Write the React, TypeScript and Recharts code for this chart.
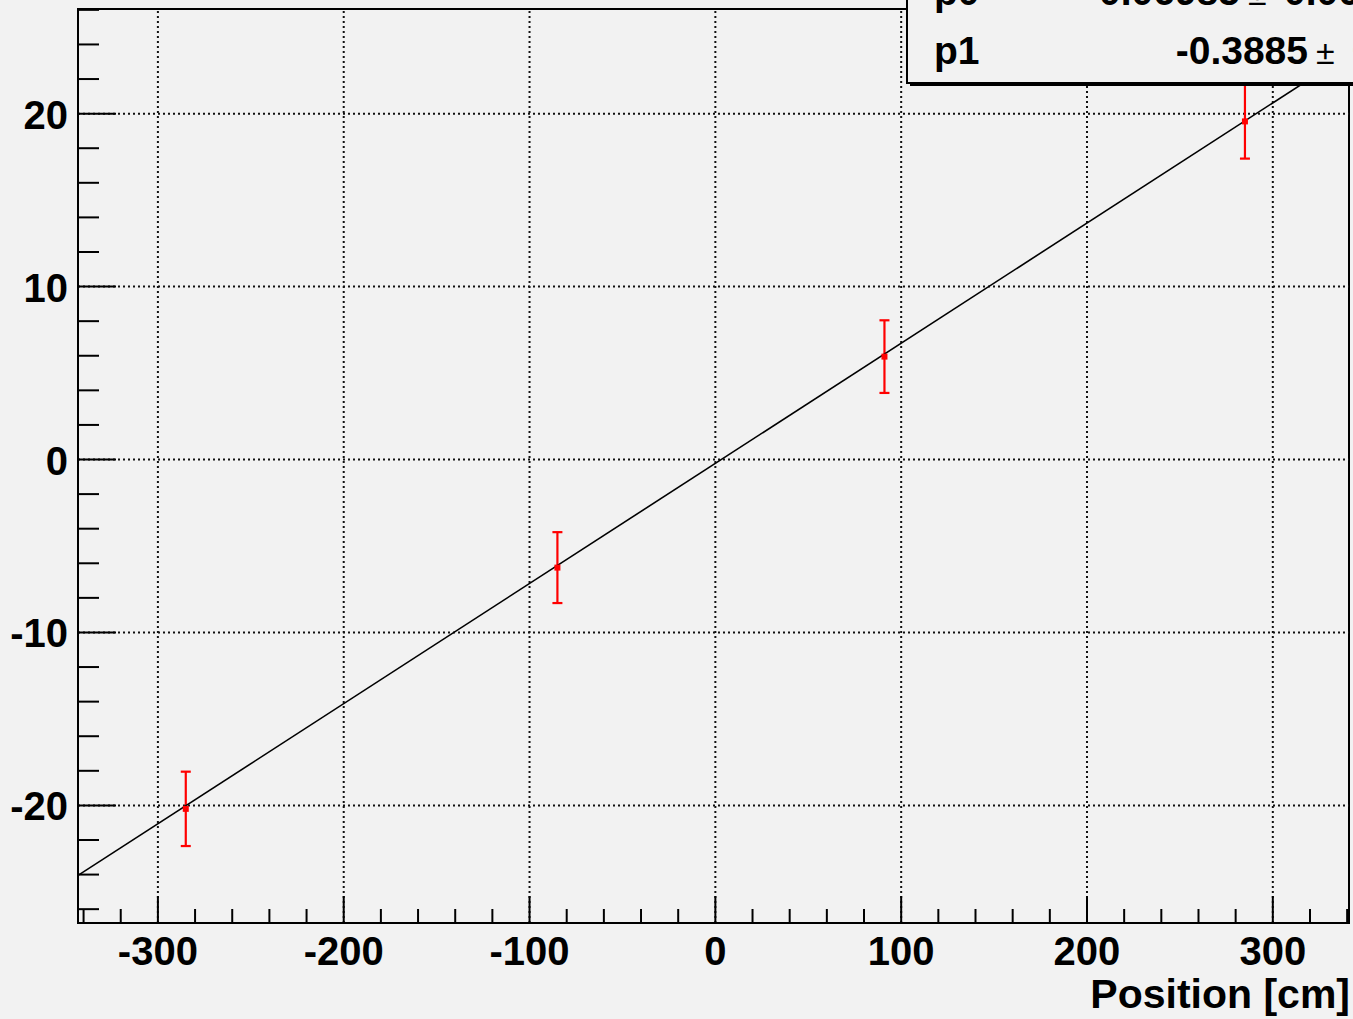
import React from 'react';
import { ScatterChart, Scatter, XAxis, YAxis, ErrorBar, ReferenceLine, ReferenceArea } from 'recharts';

const BG = '#f2f2f2';
const FONT = '"Liberation Sans", Arial, Helvetica, sans-serif';

// measured points (position in cm, value, y error)
const posX = [-285, -85, 91, 285];
const posY = [-20.2, -6.25, 5.95, 19.55];
const posErr = [2.15, 2.05, 2.1, 2.15];

// fitted straight line, end points
const fitX = [-343, 340];
const fitY = [-24.05, 23.4];

// axis ticks
const xMajor = [-300, -200, -100, 0, 100, 200, 300];
const xTicks = [
  -340, -320, -300, -280, -260, -240, -220, -200, -180, -160, -140, -120, -100, -80, -60, -40, -20, 0,
  20, 40, 60, 80, 100, 120, 140, 160, 180, 200, 220, 240, 260, 280, 300, 320, 340,
];
const yMajor = [-20, -10, 0, 10, 20];
const yTicks = [
  -26, -24, -22, -20, -18, -16, -14, -12, -10, -8, -6, -4, -2, 0, 2, 4, 6, 8, 10, 12, 14, 16, 18, 20, 22, 24, 26,
];

// stats box rows (only partly visible)
const statNames = ['p0', 'p1'];
const statValues = ['0.06985', '-0.3885'];
const statErrors = ['0.06623', '0.0003176'];

const X_DOMAIN: [number, number] = [-343, 341];
const Y_DOMAIN: [number, number] = [-26.8, 26.05];

const points = posX.map((x, i) => ({ x, y: posY[i], err: posErr[i] }));
const fitLine = fitX.map((x, i) => ({ x, y: fitY[i] }));

const XTick = (props: any) => {
  const { x, y, payload } = props;
  const major = xMajor.includes(payload.value);
  return (
    <g>
      <line x1={x} x2={x} y1={y} y2={y - (major ? 27 : 14)} stroke="#000" strokeWidth={2} />
      {major && (
        <text x={x} y={y + 42} textAnchor="middle" fontFamily={FONT} fontWeight="bold" fontSize={40} fill="#000">
          {payload.value}
        </text>
      )}
    </g>
  );
};

const YTick = (props: any) => {
  const { x, y, payload } = props;
  const major = yMajor.includes(payload.value);
  return (
    <g>
      <line x1={x} x2={x + (major ? 38 : 21)} y1={y} y2={y} stroke="#000" strokeWidth={2} />
      {major && (
        <text x={x - 10} y={y + 15} textAnchor="end" fontFamily={FONT} fontWeight="bold" fontSize={40} fill="#000">
          {payload.value}
        </text>
      )}
    </g>
  );
};

const PointMark = (props: any) => {
  const { cx, cy } = props;
  return <rect x={cx - 3} y={cy - 3} width={6} height={6} fill="#ff0000" />;
};

const NoMark = () => <g />;

const AxisTitle = () => (
  <text x={1350} y={1008} textAnchor="end" fontFamily={FONT} fontWeight="bold" fontSize={41} fill="#000">
    Position [cm]
  </text>
);

const gridStyle = { stroke: '#111', strokeWidth: 2, strokeDasharray: '2 3' };

export default function App() {
  return (
    <div style={{ position: 'absolute', left: 0, top: 0, width: 1353, height: 1019, overflow: 'hidden', background: BG }}>
      <ScatterChart width={1353} height={1019} margin={{ top: 9, right: 4, left: 0, bottom: 0 }}>
        <XAxis
          type="number"
          dataKey="x"
          domain={X_DOMAIN}
          ticks={xTicks}
          interval={0}
          allowDataOverflow
          height={96}
          tickSize={0}
          tickMargin={0}
          tickLine={false}
          tick={XTick}
          axisLine={{ stroke: '#000', strokeWidth: 2 }}
          label={<AxisTitle />}
        />
        <YAxis
          type="number"
          dataKey="y"
          domain={Y_DOMAIN}
          ticks={yTicks}
          interval={0}
          allowDataOverflow
          width={78}
          tickSize={0}
          tickMargin={0}
          tickLine={false}
          tick={YTick}
          axisLine={{ stroke: '#000', strokeWidth: 2 }}
        />
        {xMajor.map(v => (
          <ReferenceLine key={'gx' + v} x={v} {...gridStyle} />
        ))}
        {yMajor.map(v => (
          <ReferenceLine key={'gy' + v} y={v} {...gridStyle} />
        ))}
        <ReferenceArea
          x1={X_DOMAIN[0]}
          x2={X_DOMAIN[1]}
          y1={Y_DOMAIN[0]}
          y2={Y_DOMAIN[1]}
          fill="none"
          stroke="#000"
          strokeWidth={2}
          ifOverflow="visible"
        />
        <Scatter
          data={fitLine}
          line={{ stroke: '#000', strokeWidth: 1.6 }}
          lineType="joint"
          shape={NoMark}
          isAnimationActive={false}
        />
        <Scatter data={points} shape={PointMark} isAnimationActive={false}>
          <ErrorBar dataKey="err" direction="y" width={5} stroke="#ff0000" strokeWidth={2.2} />
        </Scatter>
      </ScatterChart>

      <svg width={1353} height={1019} style={{ position: 'absolute', left: 0, top: 0, pointerEvents: 'none' }}>
        <rect x={910} y={-20} width={600} height={106} fill="#000" />
        <rect x={907} y={-20} width={600} height={103} fill={BG} stroke="#000" strokeWidth={2} />
        {statNames.map((name, i) => {
          const base = i === 0 ? 5 : 64;
          const valueX = i === 0 ? 1240 : 1308;
          return (
            <g key={name} fontFamily={FONT} fontSize={39} fill="#000">
              <text x={934} y={base} fontWeight="bold">
                {name}
              </text>
              <text x={valueX} y={base} fontWeight="bold" textAnchor="end">
                {statValues[i]}
              </text>
              <text x={valueX + 8} y={base} fontSize={34}>
                ±
              </text>
              <text x={valueX + 44} y={base} fontWeight="bold">
                {statErrors[i]}
              </text>
            </g>
          );
        })}
      </svg>
    </div>
  );
}
